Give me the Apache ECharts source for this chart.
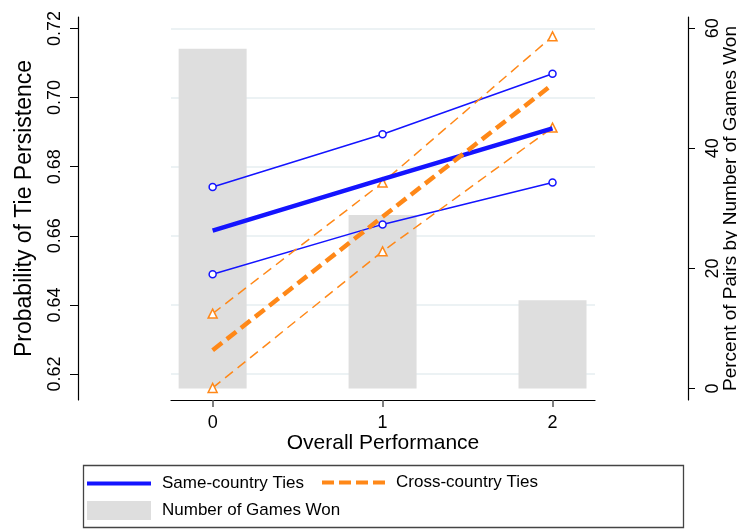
<!DOCTYPE html>
<html>
<head>
<meta charset="utf-8">
<script src="https://cdn.jsdelivr.net/npm/echarts@6/dist/echarts.min.js"></script>
<style>
  html, body { margin: 0; padding: 0; background: #fff; }
  #chart { width: 737px; height: 529px; }
</style>
</head>
<body>
<div id="chart"></div>
<script>
// Overall performance (number of games won)
const perf = [0, 1, 2];

// Predicted probability of tie persistence, with confidence bounds
const sameMid  = [0.6615, 0.6764, 0.6911];
const sameHi   = [0.6741, 0.6894, 0.7069];
const sameLo   = [0.6489, 0.6633, 0.6754];
const crossMid = [0.6269, 0.6655, 0.7038];
const crossHi  = [0.6375, 0.6754, 0.7177];
const crossLo  = [0.6160, 0.6555, 0.6913];

// Percent of pairs by number of games won
const pctPairs = [56.6, 28.9, 14.7];

// Axis tick values
const leftTicks  = [0.62, 0.64, 0.66, 0.68, 0.70, 0.72];
const rightTicks = [0, 20, 40, 60];

const BLUE = '#1414ff';
const ORANGE = '#ff8818';
const FONT = 'Liberation Sans, Arial, Helvetica, sans-serif';

// Legend key shapes: solid bar and dashed bar
const SOLID_KEY = 'path://M0,0H64V4H0Z';
const DASH_KEY = 'path://M0,0H12V4H0Z M17,0H29V4H17Z M34,0H46V4H34Z M51,0H63V4H51Z';

const pts = (vals) => perf.map((x, i) => [x, vals[i]]);

const chart = echarts.init(document.getElementById('chart'), null, { renderer: 'canvas' });

const ciLine = (name, vals, color, symbol, size, dash) => ({
  name, type: 'line', data: pts(vals), yAxisIndex: 0,
  symbol, symbolSize: size, showSymbol: true,
  itemStyle: { color: '#fff', borderColor: color, borderWidth: 1.5 },
  lineStyle: { color, width: 1.5, type: dash },
  emphasis: { disabled: true }, silent: true, z: 3
});

chart.setOption({
  animation: false,
  backgroundColor: '#fff',
  textStyle: { fontFamily: FONT },
  grid: { left: 171, right: 142, top: 17, bottom: 129, outerBoundsMode: 'none', containLabel: false },
  xAxis: {
    type: 'value', min: -0.245, max: 2.25,
    name: 'Overall Performance', nameLocation: 'middle', nameGap: 33, nameMoveOverlap: false,
    nameTextStyle: { fontSize: 21, color: '#000', fontFamily: FONT },
    axisLine: { show: true, onZero: false, lineStyle: { color: '#000', width: 1.2 } },
    axisTick: { show: true, customValues: perf, length: 7, lineStyle: { color: '#555', width: 1.5 } },
    axisLabel: { customValues: perf, fontSize: 18, color: '#000', margin: 14, fontFamily: FONT },
    splitLine: { show: false }
  },
  yAxis: [
    {
      type: 'value', position: 'left', offset: 93,
      min: 0.6125, max: 0.7233,
      name: 'Probability of Tie Persistence', nameLocation: 'middle', nameRotate: 90, nameGap: 42,
      nameMoveOverlap: false,
      nameTextStyle: { fontSize: 23, color: '#000', fontFamily: FONT },
      axisLine: { show: true, onZero: false, lineStyle: { color: '#000', width: 1.2 } },
      axisTick: { show: true, customValues: leftTicks, length: 8, lineStyle: { color: '#000' } },
      axisLabel: { customValues: leftTicks, rotate: 90, fontSize: 18, color: '#000', margin: 14,
                   formatter: v => v.toFixed(2), fontFamily: FONT },
      splitLine: { show: true, lineStyle: { color: '#e6eef1', width: 1.5 } }
    },
    {
      type: 'value', position: 'right', offset: 93,
      min: -1.92, max: 61.88,
      name: 'Percent of Pairs by Number of Games Won', nameLocation: 'middle', nameRotate: 90, nameGap: 33,
      nameMoveOverlap: false,
      nameTextStyle: { fontSize: 19, color: '#000', fontFamily: FONT },
      axisLine: { show: true, onZero: false, lineStyle: { color: '#000', width: 1.2 } },
      axisTick: { show: true, customValues: rightTicks, length: 7, lineStyle: { color: '#000' } },
      axisLabel: { customValues: rightTicks, rotate: 90, fontSize: 18, color: '#000', margin: 16, fontFamily: FONT },
      splitLine: { show: false }
    }
  ],
  legend: [
    {
      data: [{ name: 'Same-country Ties', icon: SOLID_KEY }], left: 87, top: 475, padding: 0,
      itemWidth: 64, itemHeight: 4, selectedMode: false,
      textStyle: { fontSize: 17, color: '#000', fontFamily: FONT, padding: [0, 0, 0, 6] }
    },
    {
      data: [{ name: 'Cross-country Ties', icon: DASH_KEY }], left: 322, top: 474, padding: 0,
      itemWidth: 63, itemHeight: 4, selectedMode: false,
      textStyle: { fontSize: 17, color: '#000', fontFamily: FONT, padding: [0, 0, 0, 6] }
    },
    {
      data: ['Number of Games Won'], left: 87, top: 501, padding: 0,
      itemWidth: 64, itemHeight: 19, selectedMode: false, icon: 'rect',
      textStyle: { fontSize: 17, color: '#000', fontFamily: FONT, padding: [0, 0, 0, 6] }
    }
  ],
  graphic: [
    {
      type: 'rect', silent: true, z: -1,
      shape: { x: 83.5, y: 465.5, width: 600, height: 62 },
      style: { fill: 'none', stroke: '#444', lineWidth: 1.3 }
    }
  ],
  series: [
    {
      name: 'Number of Games Won', type: 'bar', yAxisIndex: 1,
      data: pts(pctPairs), barWidth: 68,
      itemStyle: { color: '#dedede' }, silent: true, z: 1
    },
    ciLine('Same-country upper', sameHi, BLUE, 'circle', 7, 'solid'),
    ciLine('Same-country lower', sameLo, BLUE, 'circle', 7, 'solid'),
    ciLine('Cross-country upper', crossHi, ORANGE, 'triangle', 9, [10, 6]),
    ciLine('Cross-country lower', crossLo, ORANGE, 'triangle', 9, [10, 6]),
    {
      name: 'Same-country Ties', type: 'line', data: pts(sameMid), yAxisIndex: 0,
      symbol: 'none', lineStyle: { color: BLUE, width: 4.5 }, itemStyle: { color: BLUE },
      silent: true, z: 4
    },
    {
      name: 'Cross-country Ties', type: 'line', data: pts(crossMid), yAxisIndex: 0,
      symbol: 'none', lineStyle: { color: ORANGE, width: 4.5, type: [12, 6] }, itemStyle: { color: ORANGE },
      silent: true, z: 5
    }
  ]
});
</script>
</body>
</html>
